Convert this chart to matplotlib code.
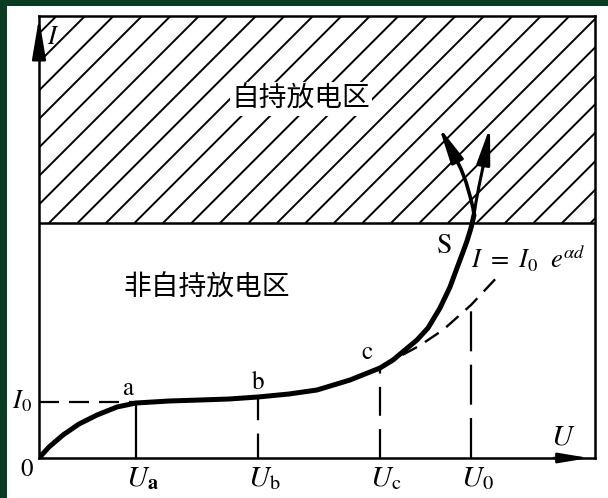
import numpy as np
import matplotlib
matplotlib.use("Agg")
import matplotlib.pyplot as plt
from matplotlib.patches import Rectangle

plt.rcParams['font.family'] = ['Noto Sans CJK SC', 'DejaVu Sans']
plt.rcParams['mathtext.fontset'] = 'stix'

# characteristic voltages (U axis) and current levels (I axis), arbitrary units
U_a, U_b, U_c, U_0 = 97, 219, 341, 432
I_0 = 56
I_self = 235          # onset of the self-sustained discharge region
U_max, I_max = 556, 442

# discharge characteristic I(U)
curve_u = [0, 10, 24, 40, 58, 78, 97, 130, 161, 190, 219, 250, 278, 311, 341,
           354, 366, 378, 389, 401, 411, 418, 424, 428, 432, 435]
curve_i = [0, 11, 23, 34, 43, 51, 55, 57, 58, 59, 61, 64, 68, 78, 90,
           98, 108, 118, 130, 150, 171, 190, 206, 217, 230, 243]
# two branches beyond breakdown
left_u = [435, 434, 431, 427, 422, 416]
left_i = [243, 250, 262, 276, 289, 301]
left_tip = (400, 331)
right_u = [435, 437, 440, 444]
right_i = [243, 256, 272, 291]
right_tip = (451, 331)
# Townsend growth I = I0 e^{ad}
exp_u = [341, 354, 380, 404, 432, 462]
exp_i = [90, 98, 112, 128, 153, 185]

# point labels on the curve
pt_names = ['a', 'b', 'c']
pt_u = [89, 219, 328]
pt_i = [70, 76, 106]

fig = plt.figure(figsize=(6.08, 4.98), dpi=100)
fig.patch.set_facecolor('#0a3c24')
fig.patches.append(Rectangle((7 / 608, 0), 1, 1 - 6 / 498, transform=fig.transFigure,
                             facecolor='white', edgecolor='none', zorder=-10))

ax = fig.add_axes([39 / 608, 1 - 458 / 498, 556 / 608, 442 / 498])
ax.set_xlim(0, U_max)
ax.set_ylim(0, I_max)
ax.set_facecolor('none')
ax.set_xticks([])
ax.set_yticks([])
for s in ax.spines.values():
    s.set_linewidth(1.8)
    s.set_color('black')

# hatched self-sustained region
ax.axhline(I_self, color='black', lw=1.8)
for k in np.arange(-111 - 28.5 * 16, U_max, 28.5):
    ax.plot([k + I_self, k + I_max + 20], [I_self, I_max + 20], color='black', lw=1.4,
            solid_capstyle='butt')

ax.text(262, 359, '自持放电区', fontsize=20, ha='center', va='center', zorder=5,
        bbox=dict(facecolor='white', edgecolor='none', pad=1.5))
ax.text(168, 170, '非自持放电区', fontsize=20, ha='center', va='center', zorder=5)

# guide lines
ax.plot([0, U_a], [I_0, I_0], color='black', lw=1.6, ls=(0, (9, 4.5)))
ax.plot([U_a, U_a], [0, curve_i[6]], color='black', lw=1.6)
ax.plot([U_b, U_b], [0, curve_i[10]], color='black', lw=1.6, ls=(0, (11, 6)))
ax.plot([U_c, U_c], [0, curve_i[14]], color='black', lw=1.6, ls=(0, (13, 6)))
ax.plot([U_0, U_0], [0, exp_i[4]], color='black', lw=1.6, ls=(0, (18, 6)))

# exponential curve
ax.plot(exp_u, exp_i, color='black', lw=1.7, ls=(0, (7, 4)))

# discharge characteristic
ax.plot(curve_u, curve_i, color='black', lw=3.6, solid_capstyle='round', solid_joinstyle='round')
ax.plot(left_u, left_i, color='black', lw=2.6, solid_joinstyle='round')
ax.plot(right_u, right_i, color='black', lw=2.2, solid_joinstyle='round')
head = dict(arrowstyle='-|>,head_length=2.2,head_width=0.4', mutation_scale=10,
            color='black', lw=2.2, shrinkA=0, shrinkB=0)
ax.annotate('', xy=left_tip, xytext=(left_u[-1], left_i[-1]), arrowprops=head)
ax.annotate('', xy=right_tip, xytext=(right_u[-1], right_i[-1]), arrowprops=head)

# axis arrows
ax.annotate('', xy=(0, 440), xytext=(0, 400), annotation_clip=False,
            arrowprops=dict(arrowstyle='-|>,head_length=2.5,head_width=0.42', mutation_scale=10,
                            color='black', lw=1.8, shrinkA=0, shrinkB=0))
ax.annotate('', xy=(550, 0), xytext=(515, 0), annotation_clip=False,
            arrowprops=dict(arrowstyle='-|>,head_length=1.8,head_width=0.3', mutation_scale=10,
                            color='black', lw=1.8, shrinkA=0, shrinkB=0))

# labels
serif = dict(color='black')
ax.text(14, 421, '$I$', fontsize=19, ha='center', va='center', **serif)
ax.text(-7, 57, '$I_0$', fontsize=19, ha='right', va='center', **serif)
ax.text(-12, -11, '$0$', fontsize=18, ha='center', va='center', **serif)
ax.text(524, 22, '$U$', fontsize=21, ha='center', va='center', **serif)
u_labels = [r'$U_{\mathbf{a}}$', r'$U_{\mathrm{b}}$', r'$U_{\mathrm{c}}$', r'$U_0$']
for u, lab in zip([U_a, U_b, U_c, U_0], u_labels):
    ax.text(u + 6, -20, lab, fontsize=21, ha='center', va='center', **serif)
for name, u, i in zip(pt_names, pt_u, pt_i):
    ax.text(u, i, f'$\\mathrm{{{name}}}$', fontsize=18, ha='center', va='center', **serif)
ax.text(405, 213, r'$\mathrm{S}$', fontsize=20, ha='center', va='center', **serif)
ax.text(432, 199, r'$I\ =\ I_0\ \ e^{\alpha d}$', fontsize=19, ha='left', va='center', **serif)

fig.savefig('out.png', dpi=100, facecolor=fig.get_facecolor())
